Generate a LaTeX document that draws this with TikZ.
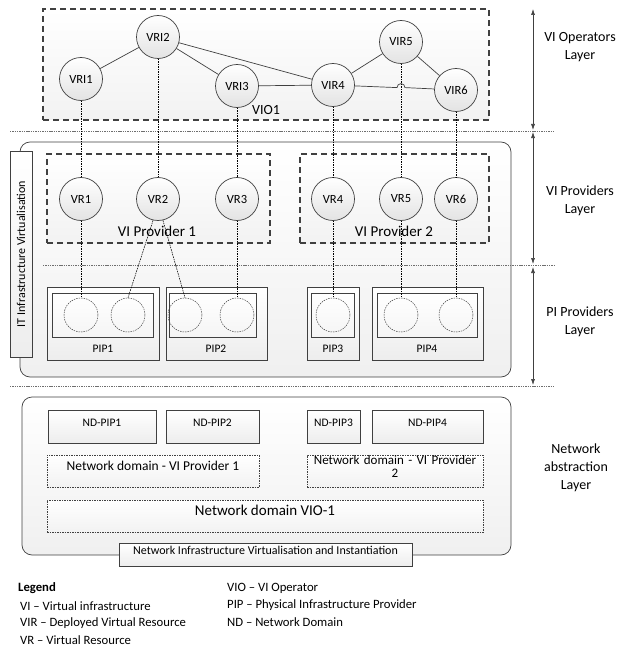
\documentclass[tikz,border=0pt]{standalone}
\usepackage{fontspec}
\setmainfont{Carlito}
\usetikzlibrary{arrows.meta,calc,fit,shadows}
\definecolor{lc}{RGB}{64,64,64}
\definecolor{sepc}{RGB}{110,110,110}

\begin{document}
\begin{tikzpicture}[x=1pt,y=-1pt,
  fs/.style={font=\fontsize{#1}{18}\selectfont},
  res/.style={circle, draw=lc, line width=0.7, minimum size=43, inner sep=0,
    top color=white, bottom color=gray!22, fs=12.5},
  slot/.style={circle, draw=lc, line width=0.5, dash pattern=on 1.5pt off 1pt,
    minimum size=34, inner sep=0},
  lnk/.style={draw=lc, line width=0.7},
  map/.style={draw=black, line width=0.55, dash pattern=on 1.6pt off 0.9pt},
  sep/.style={draw=sepc, line width=0.6, dash pattern=on 1.4pt off 0.9pt},
  grp/.style={draw=lc, line width=1.2, dash pattern=on 6pt off 4pt,
    top color=white, bottom color=gray!10, inner sep=0},
  panel/.style={draw=lc, line width=0.7, rounded corners=10,
    top color=white, bottom color=gray!12, inner sep=0},
  box/.style={draw=lc, line width=0.7, inner sep=0,
    top color=white, bottom color=gray!14},
  inbox/.style={draw=lc, line width=0.7, inner sep=0,
    top color=white, bottom color=gray!8,
    drop shadow={shadow xshift=1.2pt, shadow yshift=-1.2pt, opacity=0.25}},
  dombox/.style={draw=lc, line width=0.55, dash pattern=on 1.5pt off 1pt,
    inner sep=0, top color=white, bottom color=gray!10},
  dim/.style={draw=lc, line width=0.6, {Latex[length=6pt,width=4pt]}-{Latex[length=6pt,width=4pt]}},
  lay/.style={align=center, fs=14},
  leg/.style={anchor=west, fs=12.7, inner sep=0}
]
\useasboundingbox (0,0) rectangle (621,650);

% ---------------- panels ----------------
\node[panel, fit={(20,142) (511,377)}] (itp) {};
\node[panel, fit={(22,397) (511,555)}] (nwp) {};

% VI operator group
\node[grp, fit={(43,9) (489,120)}] (vio) {};
\node[fs=14] (violbl) at (266,110) {VIO1};

% VI provider groups
\node[grp, fit={(47,154) (270,243)}] (vip1) {};
\node[grp, fit={(300,154) (489,243)}] (vip2) {};
\node[fs=15] (vip1lbl) at (157,231) {VI Provider 1};
\node[fs=15] (vip2lbl) at (394,231) {VI Provider 2};

% IT infrastructure label
\node[box, rotate=90, minimum width=206, minimum height=22, fs=12] (itlbl) at (21,254)
  {IT Infrastructure Virtualisation};

% ---------------- separators ----------------
\coordinate (s1a) at (10,131);  \coordinate (s1b) at (555,131);
\coordinate (s2a) at (43,265);  \coordinate (s2b) at (555,265);
\coordinate (s3a) at (10,386);  \coordinate (s3b) at (555,386);
\draw[sep] (s1a) -- (s1b);
\draw[sep] (s2a) -- (s2b);
\draw[sep] (s3a) -- (s3b);

% ---------------- PIP boxes ----------------
\node[box, fit={(47,287) (159,360)}] (pip1) {};
\node[box, fit={(166,287) (267,360)}] (pip2) {};
\node[box, fit={(307,287) (359,360)}] (pip3) {};
\node[box, fit={(372,287) (483,360)}] (pip4) {};
\node[inbox, fit={(52,293) (153,337)}] (in1) {};
\node[inbox, fit={(169,293) (256,337)}] (in2) {};
\node[inbox, fit={(311,293) (354,337)}] (in3) {};
\node[inbox, fit={(377,293) (477,337)}] (in4) {};
\node[fs=11.5] (pip1lbl) at (103,349) {PIP1};
\node[fs=11.5] (pip2lbl) at (216,349) {PIP2};
\node[fs=11.5] (pip3lbl) at (333,349) {PIP3};
\node[fs=11.5] (pip4lbl) at (427,349) {PIP4};

\node[slot] (pc1) at (81,315) {};
\node[slot] (pc2) at (128,315) {};
\node[slot] (pc3) at (185,315) {};
\node[slot] (pc4) at (237,315) {};
\node[slot] (pc5) at (333,315) {};
\node[slot] (pc6) at (401,315) {};
\node[slot] (pc7) at (456,315) {};

% ---------------- virtual resources ----------------
\node[res] (vr1) at (81,199) {VR1};
\node[res] (vr2) at (158,199) {VR2};
\node[res] (vr3) at (237,199) {VR3};
\node[res] (vr4) at (333,199) {VR4};
\node[res] (vr5) at (401,199) {VR5};
\node[res] (vr6) at (456,199) {VR6};

% ---------------- deployed virtual resources ----------------
\node[res] (vri1) at (81,79) {VRI1};
\node[res] (vri2) at (158,37) {VRI2};
\node[res] (vri3) at (237,86) {VRI3};
\node[res] (vir4) at (333,85) {VIR4};
\node[res] (vir5) at (401,42) {VIR5};
\node[res] (vir6) at (456,90) {VIR6};

% links between deployed resources
\draw[lnk] (vri1) -- (vri2);
\draw[lnk] (vri2) -- (vri3);
\draw[lnk] (vri2) -- (vir4);
\draw[lnk] (vri3) -- (vir4);
\draw[lnk] (vir4) -- (vir5);
\draw[lnk] (vir5) -- (vir6);
\coordinate (hopa) at (397,87.6);
\draw[lnk] (vir4) -- (hopa) arc[start angle=180, end angle=360, radius=4] -- (vir6);

% mappings down the layers
\draw[map] (vri1.south) -- (vr1.north);
\draw[map] (vri2.south) -- (vr2.north);
\draw[map] (vri3.south) -- (vr3.north);
\draw[map] (vir4.south) -- (vr4.north);
\draw[map] (vir5.south) -- (vr5.north);
\draw[map] (vir6.south) -- (vr6.north);
\draw[map] (vr1.south) -- (pc1.north);
\draw[map] (vr2.-103) -- (pc2.north);
\draw[map] (vr2.-77) -- (pc3.north);
\draw[map] (vr3.south) -- (pc4.north);
\draw[map] (vr4.south) -- (pc5.north);
\draw[map] (vr5.south) -- (pc6.north);
\draw[map] (vr6.south) -- (pc7.north);

% ---------------- network abstraction ----------------
\node[box, fit={(48,410) (156,443)}, fs=11.5] (nd1) {ND-PIP1};
\node[box, fit={(166,410) (259,443)}, fs=11.5] (nd2) {ND-PIP2};
\node[box, fit={(307,410) (360,443)}, fs=11.5] (nd3) {ND-PIP3};
\node[box, fit={(372,410) (483,443)}, fs=11.5] (nd4) {ND-PIP4};
\node[dombox, fit={(47,455) (259,487)}, fs=13.5] (dom1) {Network domain - VI Provider 1};
\node[dombox, fit={(307,455) (483,487)}, font=\fontsize{13}{12.5}\selectfont, align=center] (dom2) {Network domain - VI Provider\\2};
\node[dombox, fit={(47,500) (483,532)}, fs=15] (dom3) {Network domain VIO-1};
\node[box, fit={(119,543) (412,566)}, fs=12] (nivi) {Network Infrastructure Virtualisation and Instantiation};

% ---------------- layer dimensions ----------------
\coordinate (d1a) at (533,9);   \coordinate (d1b) at (533,130);
\coordinate (d2a) at (533,132); \coordinate (d2b) at (533,264);
\coordinate (d3a) at (533,267); \coordinate (d3b) at (533,385);
\draw[dim] (d1a) -- (d1b);
\draw[dim] (d2a) -- (d2b);
\draw[dim] (d3a) -- (d3b);
\node[lay] (l1) at (580,47) {VI Operators\\Layer};
\node[lay] (l2) at (580,201) {VI Providers\\Layer};
\node[lay] (l3) at (580,322) {PI Providers\\Layer};
\node[lay] (l4) at (576,468) {Network\\abstraction\\Layer};

% ---------------- legend ----------------
\node[leg, font=\fontsize{12.7}{15}\selectfont\bfseries] (lg0) at (18,588) {Legend};
\node[leg] (lg1) at (20,606) {VI – Virtual infrastructure};
\node[leg] (lg2) at (20,623) {VIR – Deployed Virtual Resource};
\node[leg] (lg3) at (20,640) {VR – Virtual Resource};
\node[leg] (lg4) at (227,588) {VIO – VI Operator};
\node[leg] (lg5) at (227,605) {PIP – Physical Infrastructure Provider};
\node[leg] (lg6) at (227,622) {ND – Network Domain};
\end{tikzpicture}
\end{document}
